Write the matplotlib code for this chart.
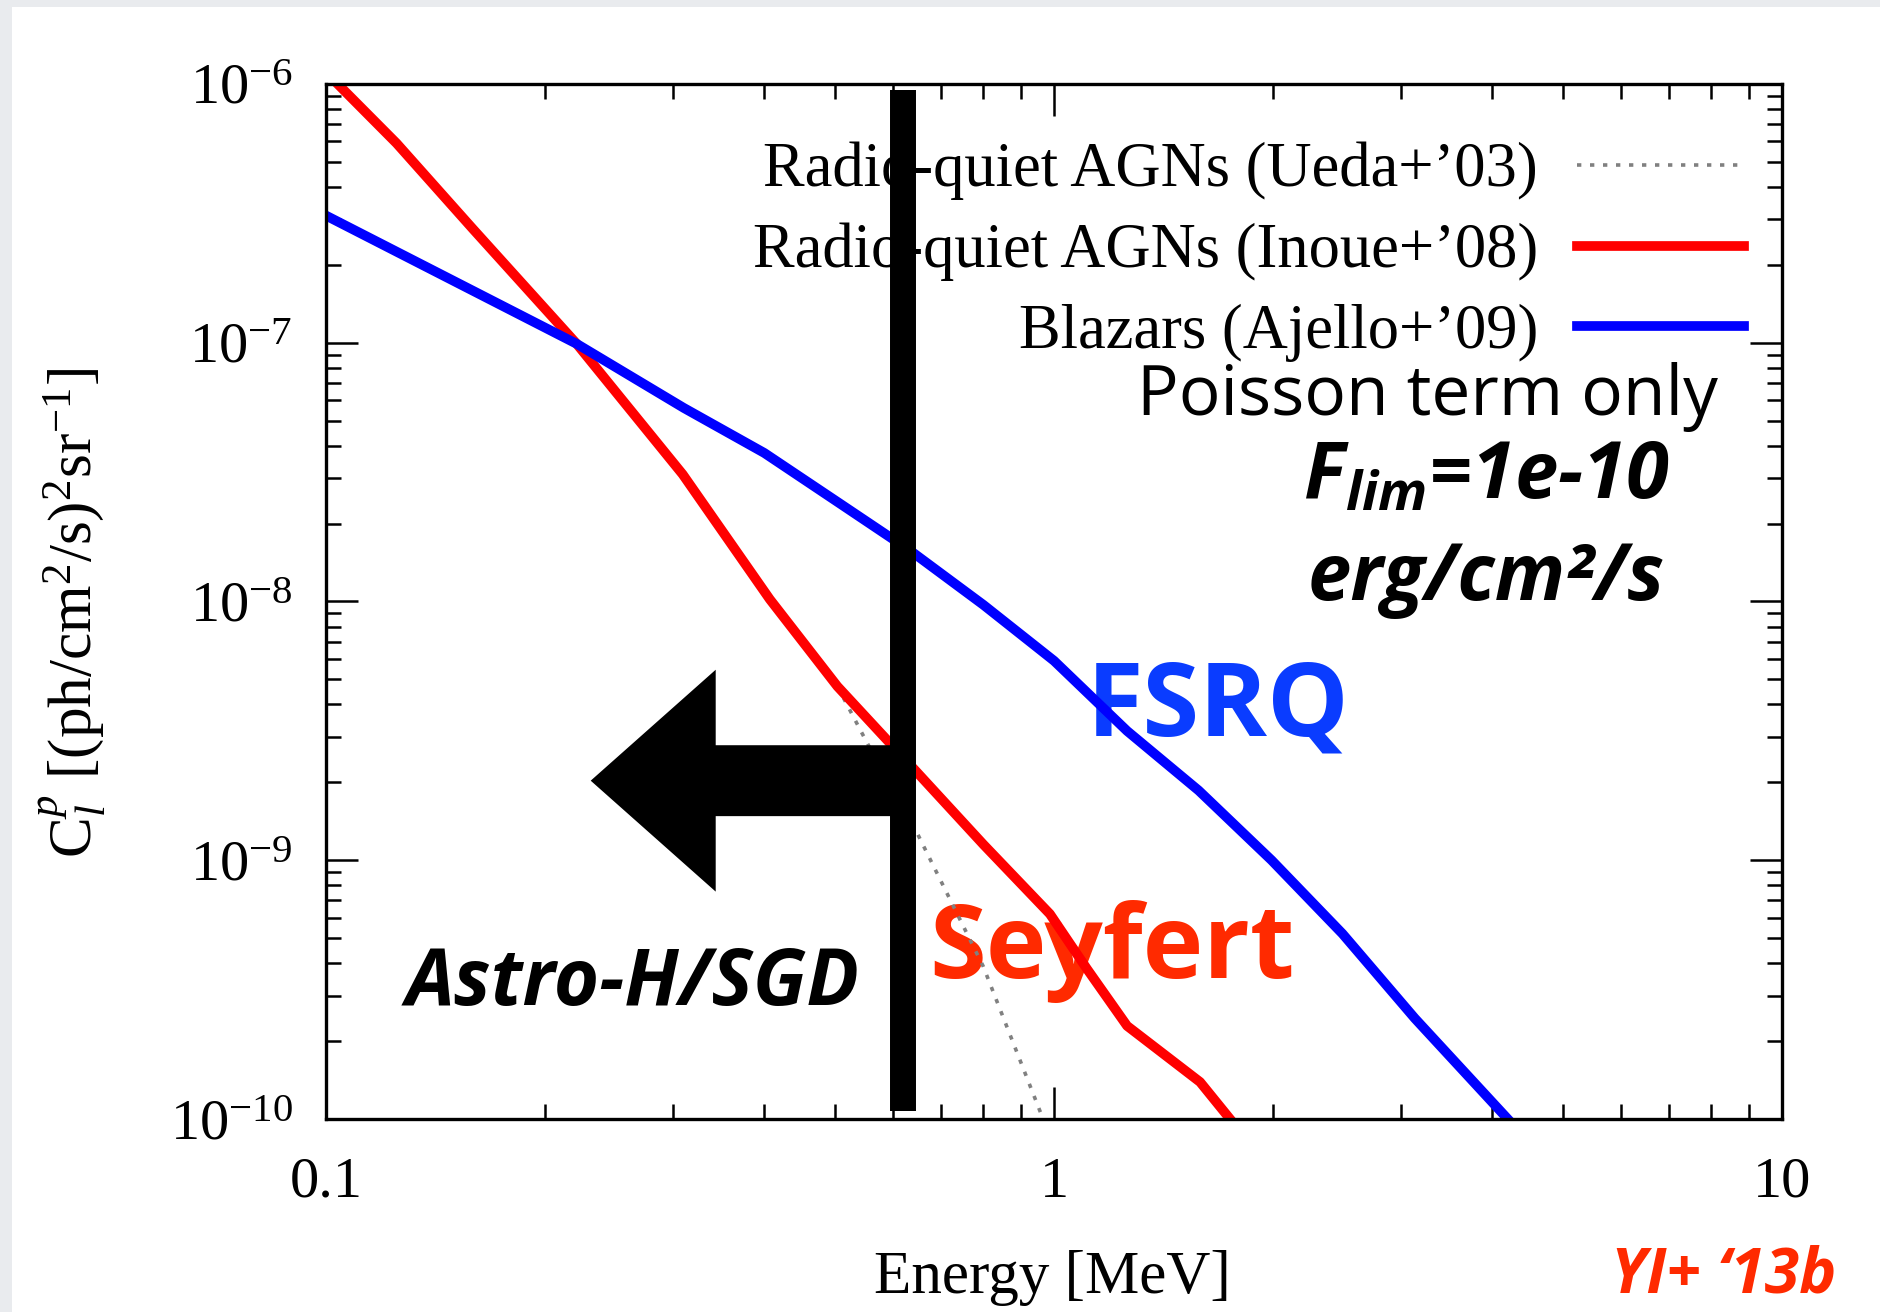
import matplotlib
matplotlib.use('Agg')
import matplotlib.pyplot as plt
from matplotlib.patches import Polygon, Rectangle
from matplotlib.ticker import LogLocator, NullFormatter

plt.rcParams['font.family'] = ['Liberation Serif', 'DejaVu Serif']
plt.rcParams['mathtext.fontset'] = 'custom'
plt.rcParams['mathtext.rm'] = 'Liberation Serif'
plt.rcParams['mathtext.it'] = 'Liberation Serif:italic'
plt.rcParams['mathtext.bf'] = 'Open Sans:italic:bold'
plt.rcParams['axes.linewidth'] = 2.4

# Radio-quiet AGNs (Inoue+'08)
energy_inoue = [0.1, 0.125, 0.159, 0.221, 0.309, 0.407, 0.504, 0.648, 0.80,
                0.987, 1.11, 1.26, 1.587, 1.745]
cl_inoue = [1.11e-6, 5.9e-7, 2.76e-7, 9.9e-8, 3.1e-8, 1.02e-8, 4.7e-9, 2.19e-9,
            1.15e-9, 6.2e-10, 3.8e-10, 2.29e-10, 1.39e-10, 1.0e-10]

# Radio-quiet AGNs (Ueda+'03), only visible where it leaves the Inoue curve
energy_ueda = [0.504, 0.553, 0.648, 0.799, 0.966]
cl_ueda = [4.7e-9, 2.86e-9, 1.28e-9, 3.9e-10, 1.0e-10]

# Blazars (Ajello+'09)
energy_ajello = [0.1, 0.221, 0.31, 0.40, 0.507, 0.637, 0.80, 1.0, 1.26, 1.58,
                 1.99, 2.49, 3.13, 4.2]
cl_ajello = [3.1e-7, 9.9e-8, 5.6e-8, 3.75e-8, 2.4e-8, 1.56e-8, 9.7e-9, 5.9e-9,
             3.16e-9, 1.86e-9, 1.0e-9, 5.2e-10, 2.45e-10, 1.0e-10]

labels = ["Radio-quiet AGNs (Ueda+\u201903)",
          "Radio-quiet AGNs (Inoue+\u201908)",
          "Blazars (Ajello+\u201909)"]

y_ticks = [1e-10, 1e-9, 1e-8, 1e-7, 1e-6]
y_ticklabels = ['$10^{-10}$', '$10^{-9}$', '$10^{-8}$', '$10^{-7}$', '$10^{-6}$']
x_ticks = [0.1, 1, 10]
x_ticklabels = ['0.1', '1', '10']

# Astro-H/SGD limit bar and arrow
sgd_energy = 0.62
bar_top, bar_bottom = 9.5e-7, 1.07e-10
arrow_tip, arrow_neck, arrow_level = 0.231, 0.343, 2.03e-9
head_half, shaft_half = 2.684, 1.371

sans = 'Open Sans'

fig = plt.figure(figsize=(18.8, 13.12), dpi=100, facecolor='#e9ebee')
fig.add_artist(Rectangle((0.0064, 0), 1, 0.9947, transform=fig.transFigure,
                         facecolor='white', edgecolor='none', zorder=-1))
ax = fig.add_axes([0.1734, 0.1471, 0.7745, 0.7889])

ax.plot(energy_ueda, cl_ueda, color='#808080', lw=2.6, linestyle=(0, (1.2, 2.4)),
        label=labels[0])
ax.plot(energy_inoue, cl_inoue, color='#ff0000', lw=7, label=labels[1])
ax.plot(energy_ajello, cl_ajello, color='#0000ff', lw=7, label=labels[2])

ax.set_xscale('log')
ax.set_yscale('log')
ax.set_xlim(0.1, 10)
ax.set_ylim(1e-10, 1e-6)

ax.set_xticks(x_ticks)
ax.set_xticklabels(x_ticklabels, fontsize=42)
ax.set_yticks(y_ticks)
ax.set_yticklabels(y_ticklabels, fontsize=42)
ax.xaxis.set_minor_locator(LogLocator(base=10, subs=range(2, 10)))
ax.yaxis.set_minor_locator(LogLocator(base=10, subs=range(2, 10)))
ax.xaxis.set_minor_formatter(NullFormatter())
ax.yaxis.set_minor_formatter(NullFormatter())
ax.tick_params(which='both', direction='in', top=True, right=True, width=1.8)
ax.tick_params(which='major', length=23)
ax.tick_params(which='minor', length=11)
ax.tick_params(axis='x', which='major', pad=27)
ax.tick_params(axis='y', which='major', pad=24)

ax.set_xlabel('Energy [MeV]', fontsize=44)
ax.xaxis.set_label_coords(0.4986, -0.127)
ax.set_ylabel(r'$\mathrm{C}_l^p$ [(ph/cm$^2$/s)$^2$sr$^{-1}$]', fontsize=44)
ax.yaxis.set_label_coords(-0.150, 0.489)

leg = ax.legend(loc='upper right', bbox_to_anchor=(0.974, 0.944), frameon=False,
                markerfirst=False, fontsize=45, handlelength=2.68,
                handletextpad=0.62, labelspacing=0.36, borderpad=0,
                borderaxespad=0)
leg.set_zorder(5)

# SGD sensitivity bar with arrow pointing to lower energies
ax.vlines(sgd_energy, bar_bottom, bar_top, colors='black', linewidth=18.7, zorder=10)
arrow = [(arrow_tip, arrow_level),
         (arrow_neck, arrow_level * head_half),
         (arrow_neck, arrow_level * shaft_half),
         (sgd_energy, arrow_level * shaft_half),
         (sgd_energy, arrow_level / shaft_half),
         (arrow_neck, arrow_level / shaft_half),
         (arrow_neck, arrow_level / head_half)]
ax.add_patch(Polygon(arrow, closed=True, facecolor='black', edgecolor='none', zorder=10))

ax.text(0.7565, 0.6800, 'Poisson term only', transform=ax.transAxes, family=sans,
        fontsize=50, ha='center', va='baseline', zorder=1)
ax.text(0.797, 0.600, r'$\mathbf{F_{lim}}$=1e-10', transform=ax.transAxes, family=sans,
        weight='bold', style='italic', fontsize=56, ha='center', va='baseline', zorder=1)
ax.text(0.7966, 0.5014, 'erg/cm\u00b2/s', transform=ax.transAxes, family=sans,
        weight='bold', style='italic', fontsize=56, ha='center', va='baseline', zorder=1)
ax.text(0.6126, 0.371, 'FSRQ', transform=ax.transAxes, family=sans, color='#0a3cff',
        weight='bold', fontsize=74, ha='center', va='baseline', zorder=1)
ax.text(0.5395, 0.1362, 'Seyfert', transform=ax.transAxes, family=sans, color='#ff2a00',
        weight='bold', fontsize=74, ha='center', va='baseline', zorder=1)
ax.text(0.2109, 0.1101, 'Astro-H/SGD', transform=ax.transAxes, family=sans,
        weight='bold', style='italic', fontsize=56, ha='center', va='baseline', zorder=1)
fig.text(0.977, 0.0152, 'YI+ \u201813b', family=sans, color='#ff2a00', weight='bold',
         style='italic', fontsize=45, ha='right', va='baseline')

fig.savefig('out.png', dpi=100, facecolor=fig.get_facecolor())
